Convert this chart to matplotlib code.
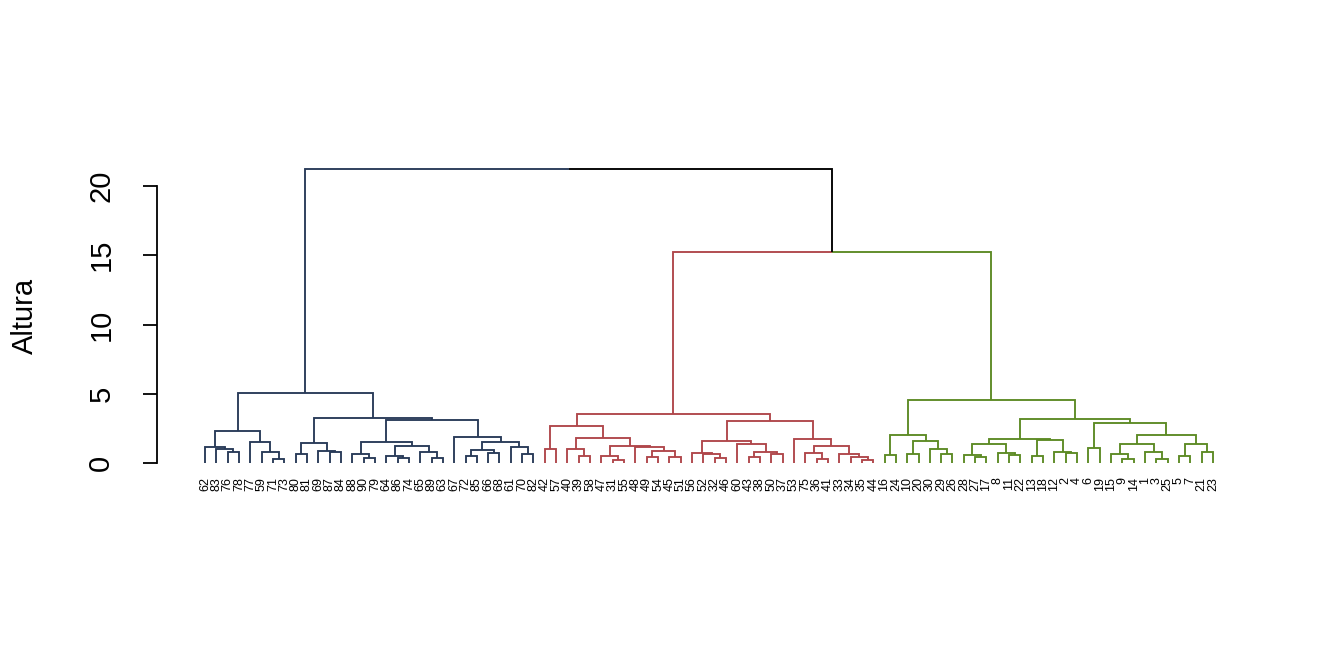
import matplotlib
matplotlib.use('Agg')
import matplotlib.pyplot as plt

plt.rcParams['font.family'] = ['Liberation Sans', 'DejaVu Sans']

# leaf labels, left to right
leaf_labels = ['62', '83', '76', '78', '77', '59', '71', '73', '80', '81',
               '69', '87', '84', '88', '90', '79', '64', '86', '74', '65',
               '89', '63', '67', '72', '85', '66', '68', '61', '70', '82',
               '42', '57', '40', '39', '58', '47', '31', '55', '48', '49',
               '54', '45', '51', '56', '52', '32', '46', '60', '43', '38',
               '50', '37', '53', '75', '36', '41', '33', '34', '35', '44',
               '16', '24', '10', '20', '30', '29', '26', '28', '27', '17',
               '8', '11', '22', '13', '18', '12', '2', '4', '6', '19',
               '15', '9', '14', '1', '3', '25', '5', '7', '21', '23']

# merges as (left, right, height); ints are leaf positions
blue_tree = (((0, (1, (2, 3, 0.82), 0.99), 1.18),
              (4, (5, (6, 7, 0.29), 0.82), 1.49), 2.31),
             (((8, 9, 0.65), (10, (11, 12, 0.82), 0.89), 1.42),
              (((13, (14, 15, 0.385), 0.65),
                ((16, (17, 18, 0.385), 0.505), (19, (20, 21, 0.385), 0.82), 1.23), 1.49),
               (22, (((23, 24, 0.505), (25, 26, 0.74), 0.94),
                     (27, (28, 29, 0.65), 1.18), 1.49), 1.90), 3.10), 3.23), 5.03)

red_tree = (((30, 31, 1.01),
             ((32, (33, 34, 0.51), 1.01),
              ((35, (36, 37, 0.22), 0.51),
               (38, ((39, 40, 0.41), (41, 42, 0.41), 0.87), 1.18), 1.25), 1.78), 2.67),
            (((43, (44, (45, 46, 0.34), 0.65), 0.70),
              (47, ((48, 49, 0.41), (50, 51, 0.62), 0.78), 1.38), 1.61),
             (52, ((53, (54, 55, 0.29), 0.70),
                   (56, (57, (58, 59, 0.22), 0.45), 0.65), 1.25), 1.74), 3.06), 3.51)

green_tree = (((60, 61, 0.58),
               ((62, 63, 0.65), (64, (65, 66, 0.65), 0.99), 1.61), 2.02),
              ((((67, (68, 69, 0.46), 0.58), (70, (71, 72, 0.58), 0.74), 1.37),
                ((73, 74, 0.51), (75, (76, 77, 0.74), 0.82), 1.66), 1.71),
               ((78, 79, 1.06),
                (((80, (81, 82, 0.29), 0.65), (83, (84, 85, 0.29), 0.82), 1.37),
                 ((86, 87, 0.51), (88, 89, 0.82), 1.37), 2.02), 2.91), 3.15), 4.55)

full_tree = (blue_tree, (red_tree, green_tree, 15.2), 21.2)

cluster_trees = [blue_tree, red_tree, green_tree]
cluster_colors = ['#283A58', '#B0464A', '#5C8A24']


def node_color(node, inherited):
	''' cluster roots get their own colour, everything else inherits '''
	for tree, col in zip(cluster_trees, cluster_colors):
		if node is tree:
			return col
	return inherited


def plot_node(ax, node, color):
	''' draws the node's edges, returns (x, height) of the node '''
	if isinstance(node, int):
		return float(node), 0.0
	left, right, height = node
	kids = []
	for child in (left, right):
		cc = node_color(child, color)
		x, h = plot_node(ax, child, cc)
		kids.append((x, h, cc))
	xm = (kids[0][0] + kids[1][0]) / 2.0
	for x, h, cc in kids:
		ax.plot([xm, x, x], [height, height, h], color=cc, lw=1.35,
		        solid_capstyle='butt', solid_joinstyle='miter')
	return xm, height


fig = plt.figure(figsize=(13.44, 6.72), dpi=100)
ax = fig.add_axes([157 / 1344, (672 - 474.8) / 672, 1104 / 1344, 317.2 / 672])

plot_node(ax, full_tree, 'black')

n = len(leaf_labels)
for i in range(n):
	ax.text(i, -1.0, leaf_labels[i], rotation=90, ha='center', va='top',
	        fontsize=9)

ax.set_xlim(-4.24, n - 1 + 4.24)
ax.set_ylim(-0.85, 22.05)

for side in ['top', 'right', 'bottom']:
	ax.spines[side].set_visible(False)
ax.spines['left'].set_bounds(0, 20)
ax.spines['left'].set_linewidth(1.3)
ax.set_xticks([])
ax.set_yticks([0, 5, 10, 15, 20])
ax.tick_params(axis='y', length=10, width=1.3, labelsize=21, pad=20,
               labelrotation=90)
for lbl in ax.get_yticklabels():
	lbl.set_va('center')

fig.text(25 / 1344, 1 - 316 / 672, 'Altura', rotation=90, ha='center',
         va='center', fontsize=21)

fig.savefig('out.png', dpi=100)
